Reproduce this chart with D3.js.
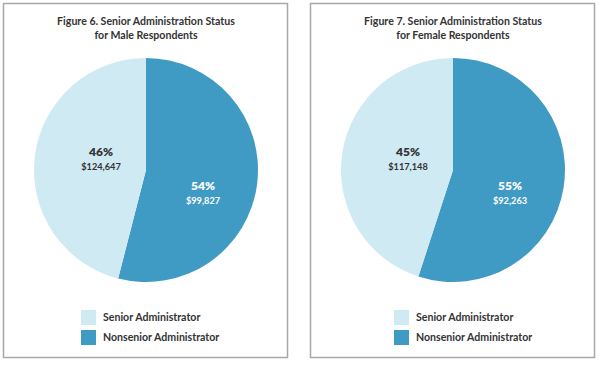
<!DOCTYPE html>
<html><head><meta charset="utf-8">
<script src="https://cdn.jsdelivr.net/npm/d3@7"></script>
<style>body{margin:0;background:#fff;}svg{display:block;font-family:Lato,"Open Sans",sans-serif;}</style>
</head><body>
<svg id="c" width="600" height="365"></svg>
<script>
const categories = ["Senior Administrator", "Nonsenior Administrator"];
const titles = [["Figure 6. Senior Administration Status", "for Male Respondents"],
                ["Figure 7. Senior Administration Status", "for Female Respondents"]];
const malePct = [46, 54];
const femalePct = [45, 55];
const maleSalary = ["$124,647", "$99,827"];
const femaleSalary = ["$117,148", "$92,263"];
const colors = ["#d0eaf4", "#409bc4"];

const svg = d3.select("#c");
const panels = [
  {x0: 3, x1: 288, cx: 146, lx: 81, pct: malePct, sal: maleSalary, title: titles[0]},
  {x0: 310, x1: 595, cx: 453, lx: 394, pct: femalePct, sal: femaleSalary, title: titles[1]}
];
const r = 112, cy = 170;
const color = d3.scaleOrdinal().domain(categories).range(colors);

panels.forEach(p => {
  const g = svg.append("g");
  g.append("rect").attr("x", p.x0 + 0.5).attr("y", 3.5).attr("width", p.x1 - p.x0 - 1).attr("height", 354)
    .attr("fill", "#fff").attr("stroke", "#a8a8a8").attr("stroke-width", 1.5);
  p.title.forEach((t, i) => g.append("text").attr("x", p.cx).attr("y", 25 + i * 13.5)
    .attr("text-anchor", "middle").attr("font-size", 10.6).attr("font-weight", 700).attr("fill", "#333").text(t));
  const data = categories.map((c, i) => ({c, v: p.pct[i], s: p.sal[i]}));
  const pie = d3.pie().sort(null).value(d => d.v).startAngle(0).endAngle(2 * Math.PI);
  const arcs = pie([data[1], data[0]]);
  const arc = d3.arc().innerRadius(0).outerRadius(r);
  const pg = g.append("g").attr("transform", `translate(${p.cx},${cy})`);
  pg.selectAll("path").data(arcs).join("path").attr("d", arc).attr("fill", d => color(d.data.c));
  const labelPos = {"Senior Administrator": [-45, -14], "Nonsenior Administrator": [57, 20]};
  arcs.forEach(a => {
    const [lx, ly] = labelPos[a.data.c];
    const fill = a.data.c === categories[0] ? "#333" : "#fff";
    pg.append("text").attr("x", lx).attr("y", ly).attr("text-anchor", "middle").attr("font-size", 12)
      .attr("font-weight", 800).attr("fill", fill).text(a.data.v + "%");
    pg.append("text").attr("x", lx).attr("y", ly + 14).attr("text-anchor", "middle").attr("font-size", 9.2)
      .attr("font-weight", 700).attr("fill", fill).text(a.data.s);
  });
  categories.forEach((c, i) => {
    const ly = 310 + i * 20;
    g.append("rect").attr("x", p.lx).attr("y", ly).attr("width", 15).attr("height", 15).attr("fill", color(c));
    g.append("text").attr("x", p.lx + 22).attr("y", ly + 11).attr("font-size", 10.6).attr("font-weight", 700)
      .attr("fill", "#333").text(c);
  });
});
</script>
</body></html>
